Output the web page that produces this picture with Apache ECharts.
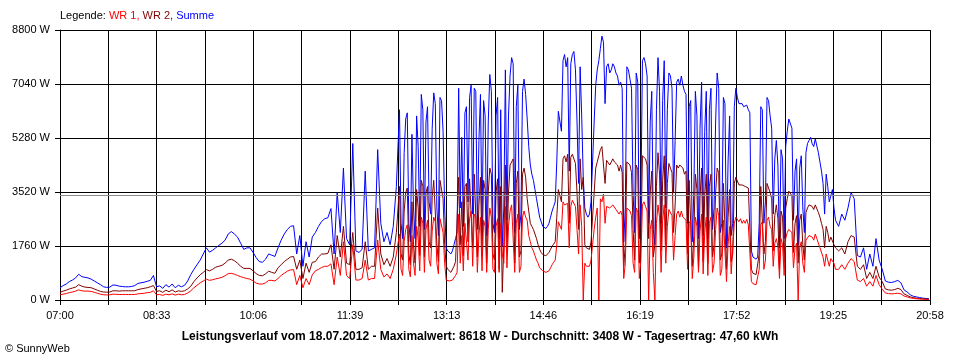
<!DOCTYPE html>
<html><head><meta charset="utf-8">
<script src="https://cdn.jsdelivr.net/npm/echarts@6/dist/echarts.min.js"></script>
<style>html,body{margin:0;padding:0;background:#fff}#c{width:960px;height:360px}</style>
</head><body><div id="c"></div>
<script>
// ---- data ----
const stepMinutes = 3;            // sample spacing (minutes after 07:00)
const totalMinutes = 838;         // 07:00 .. 20:58
const timeTickLabels = ["07:00","08:33","10:06","11:39","13:13","14:46","16:19","17:52","19:25","20:58"];
const yMaxW = 8800;
const yStepW = 1760;
const averageW = 3408;
const seriesNames = ["WR 1", "WR 2", "Summe"];
const footerText = "Leistungsverlauf vom 18.07.2012 - Maximalwert: 8618 W - Durchschnitt: 3408 W - Tagesertrag: 47,60 kWh";

// main samples, every 3 minutes
const sumW = [
400,470,520,600,650,720,840,760,740,720,
680,620,560,500,430,410,420,490,480,450,
440,430,430,440,470,540,560,580,610,640,
800,430,460,380,500,420,520,400,480,430,
480,620,830,1000,1150,1300,1500,1700,1560,1620,
1700,1780,1850,1950,2150,2230,2150,2050,1850,1650,
1700,1700,1550,1380,1250,1230,1330,1500,1460,1420,
1700,1950,2150,2300,2400,2420,1500,2100,1100,1900,
1400,2050,2200,2400,2560,2650,2680,2980,1500,3500,
2200,4300,2000,1800,5100,1600,1550,1650,4200,1600,
1650,1700,4900,2500,1900,2200,1800,2400,3700,6200,
2000,5900,2500,5400,2000,5000,6700,2300,6300,2800,
6750,3000,6600,5500,1700,1550,1600,2000,6900,5300,
6100,3200,7000,6900,2300,6700,6500,2100,7350,2500,
6000,2000,1750,7500,6000,7900,2200,7000,2800,7200,
5900,4400,3900,3300,2700,2400,2330,2500,2900,3200,
6150,5500,8000,7900,7700,8100,5800,7600,4000,2800,
2800,4500,7000,7800,8600,6400,7700,7500,7600,7300,
7100,1900,7600,7200,3500,7400,2000,7800,7700,2500,
6800,1800,7900,2500,7800,6200,7300,3500,7100,7000,
7000,6700,6300,1900,6800,2000,7100,5500,2000,6900,
3000,7400,2200,6600,1700,6000,2500,6900,6400,6400,
6300,6200,1600,1350,1400,6300,2500,6600,6000,2800,
5200,1700,4600,5000,5900,5600,4200,1800,4700,2200,
5100,5300,5000,5200,4500,3800,4100,3200,3600,2600,
2400,2800,2600,3000,3500,3300,1450,1400,1700,1000,
1500,1100,2000,1300,1000,620,580,570,600,640,
560,330,260,170,120,100,80,60,50,40
];
const wr2W = [
250,290,320,360,390,420,500,450,420,410,
400,360,320,280,260,255,260,300,300,290,
300,300,300,300,300,340,360,380,400,430,
470,280,300,250,320,270,330,260,300,280,
300,360,450,600,720,820,900,990,950,1000,
1070,1100,1130,1200,1300,1330,1280,1200,1100,1030,
1030,1030,950,860,800,790,850,940,900,870,
1050,1150,1250,1330,1400,1420,1000,1300,700,1200,
900,1230,1250,1400,1500,1500,1520,1800,1000,2100,
1400,2400,1200,1150,2200,1000,1000,1050,1900,1000,
1100,1100,3000,1500,1150,1350,1100,1400,2200,3700,
1300,3500,1500,3200,1200,3000,3900,1400,3700,1700,
3900,1800,3900,3300,1100,950,950,1250,4000,3200,
3700,1900,4000,4100,1400,4000,3900,1200,4300,1500,
3500,1000,250,4400,3500,4500,1200,4200,1600,4300,
3300,2500,2300,2000,1650,1480,1440,1550,1750,1900,
3600,3200,4700,4750,4650,4800,3500,4600,4000,1700,
1650,2700,4300,4700,5000,3800,4600,4500,4500,4400,
4400,1100,4500,4400,2300,4400,1200,4700,4600,2000,
4200,1800,4800,1600,4700,3800,4400,2200,4400,4400,
4300,4200,3900,1100,4100,1000,4300,3400,1200,4100,
1800,4300,1300,3800,1000,3600,1500,4000,3750,3750,
3700,3650,1000,850,880,3700,1500,3800,3500,1600,
3100,1000,2700,3000,3550,3400,2500,1200,2800,1300,
3000,3100,2950,3050,2700,2300,2400,1900,2100,1700,
1600,1700,1500,1900,2100,2050,1100,1000,1150,700,
900,700,1100,750,600,360,330,320,340,380,
340,200,150,100,75,60,50,40,30,25
];
const wr1W = [
170,190,210,240,260,290,330,300,290,290,
280,250,220,190,170,165,170,190,185,180,
180,180,180,180,180,200,210,220,240,250,
300,170,180,150,190,170,200,160,190,170,
180,230,300,400,480,560,620,680,640,660,
690,710,740,790,860,870,840,800,760,730,
700,680,620,550,520,520,560,640,640,620,
700,800,870,940,980,990,500,800,400,700,
500,820,950,1000,1060,1100,1100,1180,500,1400,
800,1900,800,700,1800,650,650,700,1300,650,
700,700,1950,1000,750,850,700,1000,1500,2150,
800,2300,1000,2100,800,2000,2700,900,2600,1100,
2700,1200,2650,2200,650,620,650,800,2800,2100,
2500,1300,2900,2800,900,2700,2600,900,3000,1000,
2400,900,1500,3050,2400,3100,900,2800,1100,2900,
2600,1900,1600,1300,1050,950,900,950,1150,1300,
2550,2300,3100,3150,3050,3200,2300,3100,0,1100,
1100,1800,2700,0,3200,2500,3100,3000,3050,2950,
2900,700,3000,2900,1200,3000,700,3100,3050,0,
2600,0,3100,900,3100,2400,2900,1300,2800,2700,
2700,2600,2500,700,2700,900,2800,2200,800,2700,
1200,3000,800,2600,600,2400,900,2700,2550,2500,
2500,2450,600,550,560,2450,1000,2600,2400,1100,
2000,700,1800,2000,2300,2200,1700,0,1900,900,
2000,2050,1950,2000,1700,1400,1500,1100,1300,1000,
1000,1150,1000,1200,1350,1250,650,600,700,450,
600,450,800,500,350,230,210,200,210,220,
200,130,100,70,50,40,30,25,20,15
];

// extra in-between samples for the dense part of the day (sample index 109.5 .. 248.5)
const midStartIndex = 109;
const sumMidW = [
2500,4800,6100,1900,3000,6000,2400,6200,5800,3200,
5600,6400,2100,6500,3000,1600,1500,1800,2200,3000,
2400,6300,6600,2800,6800,5200,2400,6000,5800,6800,
2200,6600,6200,3000,2600,7300,7700,6300,2300,6800,
6700,5000,4100,3600,3000,2550,2350,2400,2700,3050,
4500,6100,7800,7600,4200,8000,7500,3800,6000,3000,
2700,3200,5800,7500,8200,8400,7600,7400,7700,7400,
7000,6900,3000,7500,6900,2200,7100,3200,7900,7300,
5800,2300,6200,6800,6500,3000,7400,6900,5200,7200,
7300,6800,2500,6500,3500,6000,5600,2100,6800,6200,
2300,5800,6900,2500,6400,4500,2100,6300,6600,6400,
6300,6350,6100,1400,1330,2500,6200,3200,6500,5600,
4600,4400,4900,2000,5500,5900,2600,4600,4300,3000,
4800,5200,5100,5250,4800,4200,2800,3700,3400,3000
];
const wr2MidW = [
1500,2900,3650,1150,1800,3600,1450,3700,3500,1900,
3350,3850,1250,3900,1800,1000,900,1100,1300,1800,
1450,3800,3950,1700,4100,3100,1450,3600,3500,4100,
1300,3950,3700,1800,1550,4400,4600,3800,1400,4100,
4000,2900,2400,2150,1800,1550,1460,1480,1650,1820,
2700,3600,4600,4500,2500,4750,4450,2300,3600,1800,
1650,1900,3500,4500,4900,4950,4550,4400,4600,4450,
4200,4150,1800,4500,4150,1300,4250,1900,4700,4400,
3500,1400,3700,4100,3900,1800,4450,4150,3100,4300,
4400,4100,1500,3900,2100,3600,3350,1250,4100,3700,
1400,3500,4150,1500,3850,2700,1250,3800,3950,3750,
3700,3720,3600,870,830,1500,3650,1900,3800,3300,
2750,2650,2900,1200,3300,3550,1550,2750,2600,1800,
2850,3100,3050,3100,2850,2500,1700,2200,2050,1800
];
const wr1MidW = [
1000,1900,2450,750,1200,2400,950,2500,2300,1300,
2250,2550,850,2600,1200,600,600,700,900,1200,
950,2500,2650,1100,2700,2100,950,2400,2300,2700,
900,2650,2500,1200,1050,2900,3100,2500,900,2700,
2700,2100,1700,1450,1200,1000,890,920,1050,1230,
1800,2500,3200,3100,1700,3250,3050,1500,2400,1200,
1050,1300,2300,3000,3300,3450,3050,3000,3100,2950,
2800,2750,1200,3000,2750,900,2850,1300,3200,2900,
2300,900,2500,2700,2600,1200,2950,2750,2100,2900,
2900,2700,1000,2600,1400,2400,2250,850,2700,2500,
900,2300,2750,1000,2550,1800,850,2500,2650,2650,
2600,2630,2500,530,500,1000,2550,1300,2700,2300,
1850,1750,2000,800,2200,2350,1050,1850,1700,1200,
1950,2100,2050,2150,1950,1700,1100,1500,1350,1200
];

// ---- chart ----
const FONT = "'Liberation Sans', Arial, sans-serif";
const xStep = totalMinutes / 18;
function toPairs(main, mid) {
  const pts = main.map((v, i) => [i * stepMinutes, v]);
  mid.forEach((v, j) => pts.push([(midStartIndex + j) * stepMinutes + stepMinutes / 2, v]));
  pts.sort((a, b) => a[0] - b[0]);
  return pts;
}

const chart = echarts.init(document.getElementById('c'), null, {renderer: 'canvas'});
chart.setOption({
  animation: false,
  backgroundColor: '#ffffff',
  textStyle: {fontFamily: FONT},
  title: [
    {
      text: '{k|Legende: }{a|' + seriesNames[0] + ', }{b|' + seriesNames[1] + ', }{c|' + seriesNames[2] + '}',
      left: 60, top: 10, padding: 0,
      textStyle: {
        fontSize: 11, fontWeight: 'normal', fontFamily: FONT,
        rich: {
          k: {color: '#000000', fontSize: 11, fontFamily: FONT},
          a: {color: '#ff0000', fontSize: 11, fontFamily: FONT},
          b: {color: '#800000', fontSize: 11, fontFamily: FONT},
          c: {color: '#0000ff', fontSize: 11, fontFamily: FONT}
        }
      }
    },
    {
      text: footerText, left: 'center', top: 331, padding: 0,
      textStyle: {fontSize: 12, fontWeight: 'bold', color: '#000', fontFamily: FONT}
    },
    {
      text: '\u00A9 SunnyWeb', left: 5, top: 343, padding: 0,
      textStyle: {fontSize: 11, fontWeight: 'normal', color: '#000', fontFamily: FONT}
    }
  ],
  grid: {left: 60, right: 30, top: 30, bottom: 60, containLabel: false},
  xAxis: {
    type: 'value', min: 0, max: totalMinutes, interval: xStep,
    axisLine: {show: true, lineStyle: {color: '#000', width: 1}},
    axisTick: {show: true, length: 5, lineStyle: {color: '#000', width: 1}},
    splitLine: {show: true, lineStyle: {color: '#000', width: 1}},
    axisLabel: {
      show: true, color: '#000', fontSize: 11, fontFamily: FONT, margin: 10,
      showMinLabel: true, showMaxLabel: true, hideOverlap: false,
      formatter: function (v) {
        const idx = Math.round(v / xStep);
        if (idx % 2 !== 0) return '';
        return timeTickLabels[idx / 2] || '';
      }
    }
  },
  yAxis: {
    type: 'value', min: 0, max: yMaxW, interval: yStepW,
    axisLine: {show: true, lineStyle: {color: '#000', width: 1}},
    axisTick: {show: true, length: 5, lineStyle: {color: '#000', width: 1}},
    splitLine: {show: true, lineStyle: {color: '#000', width: 1}},
    axisLabel: {
      color: '#000', fontSize: 11, fontFamily: FONT, margin: 10,
      formatter: function (v) { return String(Math.round(v)) + ' W'; }
    }
  },
  series: [
    {
      name: seriesNames[2], type: 'line', data: toPairs(sumW, sumMidW), showSymbol: false, symbol: 'none',
      lineStyle: {color: '#0000ff', width: 1}, itemStyle: {color: '#0000ff'}, z: 2,
      markLine: {
        silent: true, symbol: 'none', label: {show: false},
        lineStyle: {color: '#8c8c8c', type: 'solid', width: 1},
        data: [{yAxis: averageW}]
      }
    },
    {
      name: seriesNames[1], type: 'line', data: toPairs(wr2W, wr2MidW), showSymbol: false, symbol: 'none',
      lineStyle: {color: '#800000', width: 1}, itemStyle: {color: '#800000'}, z: 3
    },
    {
      name: seriesNames[0], type: 'line', data: toPairs(wr1W, wr1MidW), showSymbol: false, symbol: 'none',
      lineStyle: {color: '#ff0000', width: 1}, itemStyle: {color: '#ff0000'}, z: 4
    }
  ]
});
</script>
</body></html>
